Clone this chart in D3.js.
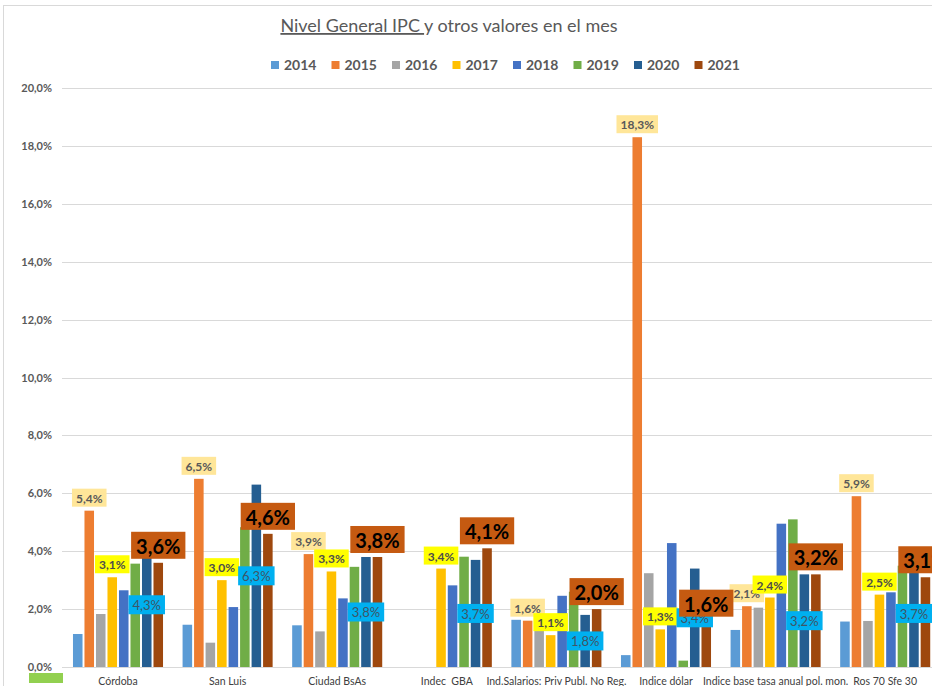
<!DOCTYPE html>
<html>
<head>
<meta charset="utf-8">
<script src="https://cdn.jsdelivr.net/npm/d3@7"></script>
<style>
  body { margin: 0; background: #fff; }
  svg { display: block; font-family: Lato, "Liberation Sans", sans-serif; }
</style>
</head>
<body>
<svg id="chart" width="932" height="686"></svg>
<script>
// Categories along the x axis
const categories = [
  "Córdoba", "San Luis", "Ciudad BsAs", "Indec  GBA",
  "Ind.Salarios: Priv Publ. No Reg.", "Indice dólar",
  "Indice base tasa anual pol. mon.", "Ros 70 Sfe 30"
];
const years = ["2014", "2015", "2016", "2017", "2018", "2019", "2020", "2021"];

// Monthly variation (%) per year, one value per category
const v2014 = [1.14, 1.46, 1.44, null, 1.63, 0.41, 1.28, 1.57];
const v2015 = [5.4, 6.5, 3.9, null, 1.6, 18.3, 2.1, 5.9];
const v2016 = [1.83, 0.84, 1.23, null, 1.4, 3.24, 2.05, 1.59];
const v2017 = [3.1, 3.0, 3.3, 3.4, 1.1, 1.3, 2.4, 2.5];
const v2018 = [2.65, 2.07, 2.37, 2.82, 2.46, 4.28, 4.95, 2.58];
const v2019 = [3.57, 4.83, 3.46, 3.81, 2.6, 0.22, 5.1, 3.5];
const v2020 = [4.3, 6.3, 3.8, 3.7, 1.8, 3.4, 3.2, 3.7];
const v2021 = [3.6, 4.6, 3.8, 4.1, 2.0, 1.6, 3.2, 3.1];

const yTicks = [0, 2, 4, 6, 8, 10, 12, 14, 16, 18, 20];

const seriesValues = [v2014, v2015, v2016, v2017, v2018, v2019, v2020, v2021];
const colors = ["#5B9BD5", "#ED7D31", "#A5A5A5", "#FFC000", "#4472C4", "#70AD47", "#255E91", "#9E480E"];

// Data-label styles for the labelled series
const labelStyles = {
  "2015": { pos: "above", fill: "#FFE699", color: "#595959", size: 12, weight: "bold", h: 18, pad: 4 },
  "2017": { pos: "above", fill: "#FFFF00", color: "#4d4d4d", size: 12, weight: "bold", h: 18, pad: 4 },
  "2020": { pos: "center", fill: "#00B0F0", color: "#3f5566", size: 13, weight: "normal", h: 19, pad: 4 },
  "2021": { pos: "above", fill: "#C55A11", color: "#000000", size: 20, weight: "bold", h: 27, pad: 5 }
};

const svg = d3.select("#chart");
const W = 932, H = 686;

// Chart frame
svg.append("line").attr("x1", 3).attr("x2", W).attr("y1", 5.5).attr("y2", 5.5)
  .attr("stroke", "#d9d9d9").attr("stroke-width", 1);
svg.append("line").attr("x1", 3.5).attr("x2", 3.5).attr("y1", 5).attr("y2", H)
  .attr("stroke", "#d9d9d9").attr("stroke-width", 1);

const plotLeft = 63.2, bandStep = 109.6;
const x0 = d3.scaleBand().domain(categories)
  .range([plotLeft, plotLeft + bandStep * categories.length]).padding(0);
const x1 = d3.scaleBand().domain(years).range([0, x0.bandwidth()])
  .paddingInner(0.17).paddingOuter(0.85);
const y = d3.scaleLinear().domain([0, 20]).range([667, 88]);

// Gridlines
svg.append("g").selectAll("line").data(yTicks).join("line")
  .attr("x1", 62).attr("x2", W)
  .attr("y1", d => Math.round(y(d)) + 0.5).attr("y2", d => Math.round(y(d)) + 0.5)
  .attr("stroke", "#d9d9d9").attr("stroke-width", 1);

// Y tick labels
const fmtPct = d3.format(".1f");
const pct = v => fmtPct(v).replace(".", ",") + "%";
svg.append("g").selectAll("text").data(yTicks).join("text")
  .attr("x", 52).attr("y", d => y(d) + 4)
  .attr("text-anchor", "end").attr("font-size", 11).attr("font-weight", "bold")
  .attr("fill", "#595959").text(d => pct(d));

// Bars
const barData = [];
years.forEach((yr, si) => {
  seriesValues[si].forEach((v, ci) => {
    if (v != null) barData.push({ yr, si, cat: categories[ci], v });
  });
});
svg.append("g").selectAll("rect").data(barData).join("rect")
  .attr("x", d => x0(d.cat) + x1(d.yr))
  .attr("width", x1.bandwidth())
  .attr("y", d => y(d.v))
  .attr("height", d => y(0) - y(d.v))
  .attr("fill", d => colors[d.si]);

// Data labels
const labelLayer = svg.append("g");
Object.keys(labelStyles).forEach(yr => {
  const st = labelStyles[yr];
  const si = years.indexOf(yr);
  seriesValues[si].forEach((v, ci) => {
    if (v == null) return;
    const cx = x0(categories[ci]) + x1(yr) + x1.bandwidth() / 2;
    const g = labelLayer.append("g");
    const t = g.append("text")
      .attr("font-size", st.size).attr("font-weight", st.weight)
      .attr("fill", st.color).attr("text-anchor", "middle")
      .attr("dominant-baseline", "central")
      .text(pct(v));
    const tw = t.node().getComputedTextLength();
    const bw = tw + st.pad * 2;
    const cy = st.pos === "above" ? y(v) - 4 - st.h / 2 : y(v / 2);
    g.insert("rect", "text")
      .attr("x", cx - bw / 2).attr("y", cy - st.h / 2)
      .attr("width", bw).attr("height", st.h)
      .attr("fill", st.fill);
    t.attr("x", cx).attr("y", cy + 0.5);
  });
});

// Category labels
svg.append("g").selectAll("text").data(categories).join("text")
  .attr("x", d => x0(d) + x0.bandwidth() / 2)
  .attr("y", 685)
  .attr("text-anchor", "middle").attr("font-size", 10.5)
  .attr("fill", "#404040").attr("xml:space", "preserve").text(d => d);

// Title
const title = svg.append("text").attr("x", 449).attr("y", 32)
  .attr("text-anchor", "middle").attr("font-size", 18).attr("fill", "#595959");
title.append("tspan").attr("text-decoration", "underline").attr("xml:space", "preserve")
  .text("Nivel General IPC ");
title.append("tspan").text("y otros valores en el mes");

// Legend
const legend = svg.append("g");
years.forEach((yr, i) => {
  const lx = 271 + i * 60.5;
  legend.append("rect").attr("x", lx).attr("y", 61).attr("width", 8).attr("height", 8)
    .attr("fill", colors[i]);
  legend.append("text").attr("x", lx + 13).attr("y", 70)
    .attr("font-size", 14).attr("font-weight", "bold").attr("fill", "#595959").text(yr);
});

// Green marker at the lower-left corner
svg.append("rect").attr("x", 29).attr("y", 673).attr("width", 34).attr("height", 10)
  .attr("fill", "#92D050");
</script>
</body>
</html>
